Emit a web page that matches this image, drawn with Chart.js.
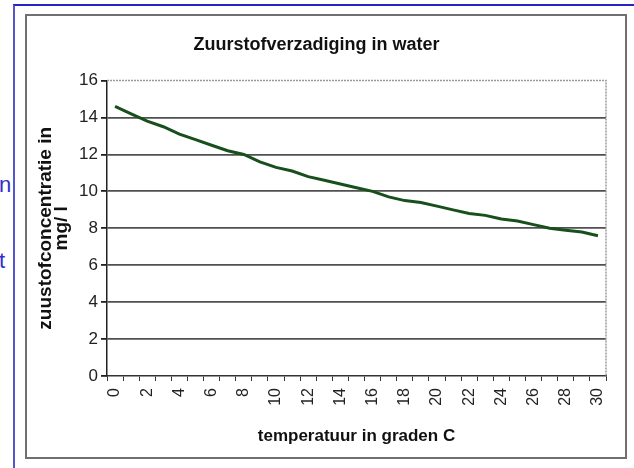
<!DOCTYPE html>
<html>
<head>
<meta charset="utf-8">
<script src="https://cdn.jsdelivr.net/npm/chart.js@4.4.0/dist/chart.umd.min.js"></script>
<style>
  body { margin: 0; width: 634px; height: 468px; background: #fff; overflow: hidden; position: relative; font-family: "Liberation Sans", Arial, sans-serif; }
  #page { position: absolute; left: 13px; top: 4px; width: 700px; height: 500px; border-left: 2px solid #5656cc; border-top: 2px solid #2424c4; }
  .frag { position: absolute; left: -1px; color: #2f2fcc; font-size: 22px; line-height: 22px; }
  #frame { position: absolute; left: 25px; top: 14px; width: 598px; height: 441px; border: 2px solid #707070; }
  #chart { display: block; }
</style>
</head>
<body>
<div id="page"></div>
<span class="frag" style="top:174px">n</span>
<span class="frag" style="top:250px">t</span>
<div id="frame"><canvas id="chart" width="598" height="441"></canvas></div>
<script>
var temperatures = ['0','1','2','3','4','5','6','7','8','9','10','11','12','13','14','15',
                    '16','17','18','19','20','21','22','23','24','25','26','27','28','29','30'];
var oxygen = [14.6, 14.2, 13.8, 13.5, 13.1, 12.8, 12.5, 12.2, 12.0, 11.6, 11.3, 11.1, 10.8, 10.6, 10.4, 10.2,
              10.0, 9.7, 9.5, 9.4, 9.2, 9.0, 8.8, 8.7, 8.5, 8.4, 8.2, 8.0, 7.9, 7.8, 7.6];
var yTicks = [0, 2, 4, 6, 8, 10, 12, 14, 16];

var chartTitle = 'Zuurstofverzadiging in water';
var xTitle = 'temperatuur in graden C';
var yTitle = ['zuustofconcentratie in', 'mg/ l'];

var fontFamily = '"Liberation Sans", Arial, sans-serif';

// dotted gray border on top and right of the plot area, like Excel
var plotBorder = {
  id: 'plotBorder',
  afterDraw: function(chart) {
    var a = chart.chartArea, ctx = chart.ctx;
    ctx.save();
    ctx.strokeStyle = '#9a9a9a';
    ctx.lineWidth = 1.5;
    ctx.setLineDash([2, 1]);
    ctx.beginPath();
    ctx.moveTo(a.left, a.top);
    ctx.lineTo(a.right, a.top);
    ctx.lineTo(a.right, a.bottom);
    ctx.stroke();
    ctx.restore();
  }
};

var ctx = document.getElementById('chart').getContext('2d');
var myChart = new Chart(ctx, {
  type: 'line',
  data: {
    labels: temperatures,
    datasets: [{
      label: 'zuurstof',
      data: oxygen,
      borderColor: '#17501b',
      borderWidth: 3,
      pointRadius: 0,
      tension: 0,
      fill: false
    }]
  },
  options: {
    responsive: false,
    animation: false,
    devicePixelRatio: 1,
    layout: { padding: { left: 0, right: 19, top: 0, bottom: 0 } },
    plugins: {
      legend: { display: false },
      tooltip: { enabled: false },
      title: {
        display: true,
        text: chartTitle,
        color: '#111',
        font: { family: fontFamily, size: 18, weight: 'bold', lineHeight: 1.2 },
        padding: { top: 18, bottom: 25 }
      }
    },
    scales: {
      x: {
        type: 'category',
        offset: true,
        grid: { display: true, offset: true, drawOnChartArea: false, drawTicks: true, tickLength: 5, tickColor: '#333', lineWidth: 1 },
        border: { display: true, color: '#333', width: 1.5 },
        ticks: {
          autoSkip: false,
          maxRotation: 90,
          minRotation: 90,
          padding: 7,
          color: '#222',
          font: { family: fontFamily, size: 16 },
          callback: function(value, index) {
            return index % 2 === 0 ? this.getLabelForValue(value) : '';
          }
        },
        title: {
          display: true,
          text: xTitle,
          color: '#111',
          font: { family: fontFamily, size: 17, weight: 'bold', lineHeight: 1.2 },
          padding: { top: 0, bottom: 10 }
        },
        afterFit: function(scale) { scale.height = 81; }
      },
      y: {
        min: 0,
        max: 16,
        afterBuildTicks: function(scale) {
          scale.ticks = yTicks.map(function(v) { return { value: v }; });
        },
        grid: {
          color: function(c) { return (c.tick && (c.tick.value === 16 || c.tick.value === 0)) ? 'rgba(0,0,0,0)' : '#505050'; },
          lineWidth: 1.8,
          tickLength: 6,
          tickColor: '#222'
        },
        border: { display: true, color: '#222', width: 1.5 },
        ticks: {
          padding: 3,
          color: '#222',
          font: { family: fontFamily, size: 17 }
        },
        title: {
          display: true,
          text: yTitle,
          color: '#111',
          font: { family: fontFamily, size: 19, weight: 'bold', lineHeight: '16px' },
          padding: { top: 11, bottom: 0 }
        },
        afterFit: function(scale) { scale.width = 80; }
      }
    }
  },
  plugins: [plotBorder]
});
</script>
</body>
</html>
